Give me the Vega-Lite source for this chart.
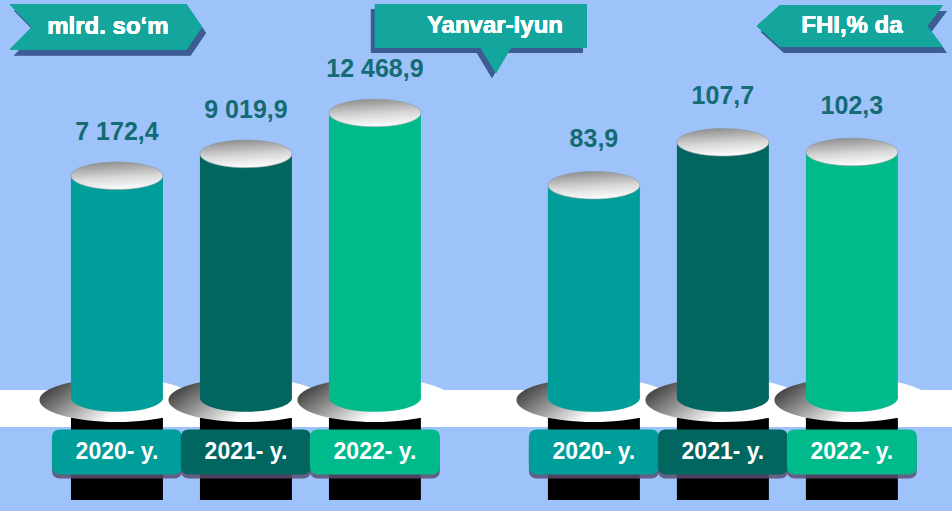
{
  "$schema": "https://vega.github.io/schema/vega-lite/v6.json",
  "width": 952,
  "height": 511,
  "autosize": {"type": "fit", "contains": "padding"},
  "padding": 0,
  "background": "#9DC3FA",
  "config": {"view": {"stroke": null}, "text": {"font": "Liberation Sans"}},
  "data": {"values": [
    {"panel": "L", "year": "2020", "value": 7172.4, "label": "7 172,4", "yl": "2020- y."},
    {"panel": "L", "year": "2021", "value": 9019.9, "label": "9 019,9", "yl": "2021- y."},
    {"panel": "L", "year": "2022", "value": 12468.9, "label": "12 468,9", "yl": "2022- y."},
    {"panel": "R", "year": "2020", "value": 83.9, "label": "83,9", "yl": "2020- y."},
    {"panel": "R", "year": "2021", "value": 107.7, "label": "107,7", "yl": "2021- y."},
    {"panel": "R", "year": "2022", "value": 102.3, "label": "102,3", "yl": "2022- y."}
  ]},
  "resolve": {"scale": {"y": "independent"}},
  "layer": [
    {
      "layer": [
        {
          "mark": {"type": "rect", "fill": "#FFFFFF"},
          "encoding": {
            "y": {"datum": -10894, "type": "quantitative", "axis": null, "scale": {"domain": [-21100, 22000], "nice": false, "zero": false}},
            "y2": {"datum": -14015}
          }
        },
        {
          "mark": {"type": "bar", "fill": "#000000"},
          "encoding": {
            "x": {"field": "panel", "type": "nominal", "axis": null, "scale": {"domain": ["L", "R"], "paddingInner": 0.2, "paddingOuter": 0.098, "align": 0.59}},
            "xOffset": {"field": "year", "type": "nominal", "scale": {"domain": ["2020", "2021", "2022"], "paddingInner": 0.287, "paddingOuter": 0.1226}},
            "y": {"datum": -13256, "type": "quantitative", "axis": null, "scale": {"domain": [-21100, 22000], "nice": false, "zero": false}},
            "y2": {"datum": -20172}
          }
        },
        {
          "mark": {"type": "point", "filled": true, "opacity": 1, "strokeWidth": 0, "size": 24025,
            "shape": "M-1,0C-1,-0.157,-0.5523,-0.284,0,-0.284C0.5523,-0.284,1,-0.157,1,0C1,0.157,0.5523,0.284,0,0.284C-0.5523,0.284,-1,0.157,-1,0Z",
            "fill": {"gradient": "linear", "x1": 0, "y1": 0.3, "x2": 1, "y2": 0.7, "stops": [
              {"offset": 0, "color": "#3a3a3a"}, {"offset": 0.3, "color": "#9a9a9a"}, {"offset": 0.6, "color": "#ffffff"}, {"offset": 1, "color": "#ffffff"}]}},
          "encoding": {
            "x": {"field": "panel", "type": "nominal", "axis": null},
            "xOffset": {"field": "year", "type": "nominal"},
            "y": {"datum": -11738, "type": "quantitative", "axis": null}
          }
        },
        {
          "mark": {"type": "point", "filled": true, "opacity": 0.85, "strokeWidth": 0, "size": 16900, "yOffset": 4, "fill": "#5a4d70",
            "shape": "M-0.877,-0.346L0.877,-0.346Q1,-0.346,1,-0.223L1,0.223Q1,0.346,0.877,0.346L-0.877,0.346Q-1,0.346,-1,0.223L-1,-0.223Q-1,-0.346,-0.877,-0.346Z"},
          "encoding": {
            "x": {"field": "panel", "type": "nominal", "axis": null},
            "xOffset": {"field": "year", "type": "nominal"},
            "y": {"datum": -16123, "type": "quantitative", "axis": null}
          }
        },
        {
          "mark": {"type": "point", "filled": true, "opacity": 1, "strokeWidth": 0, "size": 16900,
            "shape": "M-0.877,-0.346L0.877,-0.346Q1,-0.346,1,-0.223L1,0.223Q1,0.346,0.877,0.346L-0.877,0.346Q-1,0.346,-1,0.223L-1,-0.223Q-1,-0.346,-0.877,-0.346Z"},
          "encoding": {
            "x": {"field": "panel", "type": "nominal", "axis": null},
            "xOffset": {"field": "year", "type": "nominal"},
            "y": {"datum": -16123, "type": "quantitative", "axis": null},
            "color": {"field": "year", "type": "nominal", "legend": null, "scale": {"domain": ["2020", "2021", "2022"], "range": ["#009E9A", "#00665F", "#00BA8C"]}}
          }
        },
        {
          "mark": {"type": "text", "fontSize": 23, "fontWeight": "bold", "fill": "#FFFFFF", "baseline": "middle", "align": "center"},
          "encoding": {
            "x": {"field": "panel", "type": "nominal", "axis": null},
            "xOffset": {"field": "year", "type": "nominal"},
            "y": {"datum": -16123, "type": "quantitative", "axis": null},
            "text": {"field": "yl"}
          }
        },
        {
          "transform": [{"filter": "datum.panel === 'L'"}],
          "mark": {"type": "bar"},
          "encoding": {
            "x": {"field": "panel", "type": "nominal", "axis": null},
            "xOffset": {"field": "year", "type": "nominal"},
            "y": {"field": "value", "type": "quantitative", "axis": null},
            "y2": {"datum": -11570},
            "color": {"field": "year", "type": "nominal", "legend": null}
          }
        },
        {
          "transform": [{"filter": "datum.panel === 'L'"}],
          "mark": {"type": "point", "filled": true, "opacity": 1, "strokeWidth": 0, "size": 8464,
            "shape": "M-1,0C-1,-0.1657,-0.5523,-0.3,0,-0.3C0.5523,-0.3,1,-0.1657,1,0C1,0.1657,0.5523,0.3,0,0.3C-0.5523,0.3,-1,0.1657,-1,0Z"},
          "encoding": {
            "x": {"field": "panel", "type": "nominal", "axis": null},
            "xOffset": {"field": "year", "type": "nominal"},
            "y": {"datum": -11570, "type": "quantitative", "axis": null},
            "color": {"field": "year", "type": "nominal", "legend": null}
          }
        },
        {
          "transform": [{"filter": "datum.panel === 'L'"}],
          "mark": {"type": "point", "filled": true, "opacity": 1, "stroke": "#8a9a9a", "strokeWidth": 0.6, "size": 8464,
            "shape": "M-1,0C-1,-0.1657,-0.5523,-0.3,0,-0.3C0.5523,-0.3,1,-0.1657,1,0C1,0.1657,0.5523,0.3,0,0.3C-0.5523,0.3,-1,0.1657,-1,0Z",
            "fill": {"gradient": "linear", "x1": 0.4, "y1": 0, "x2": 0.6, "y2": 1, "stops": [
              {"offset": 0, "color": "#8f8f8f"}, {"offset": 0.55, "color": "#d8d8d8"}, {"offset": 1, "color": "#ffffff"}]}},
          "encoding": {
            "x": {"field": "panel", "type": "nominal", "axis": null},
            "xOffset": {"field": "year", "type": "nominal"},
            "y": {"field": "value", "type": "quantitative", "axis": null}
          }
        },
        {
          "transform": [{"filter": "datum.panel === 'L'"}],
          "mark": {"type": "text", "fontSize": 25, "fontWeight": "bold", "fill": "#146B73", "baseline": "middle", "align": "center", "dy": -44},
          "encoding": {
            "x": {"field": "panel", "type": "nominal", "axis": null},
            "xOffset": {"field": "year", "type": "nominal"},
            "y": {"field": "value", "type": "quantitative", "axis": null},
            "text": {"field": "label"}
          }
        },
        {
          "mark": {"type": "point", "filled": true, "opacity": 0.45, "strokeWidth": 0, "size": 36864, "fill": "#3a5a90", "xOffset": -136, "yOffset": 6,
            "shape": "M-1,-0.234L0.84,-0.234L1,0L0.84,0.234L-1,0.234L-0.77,0Z"},
          "encoding": {
            "x": {"datum": "L", "type": "nominal", "axis": null},
            "y": {"datum": 19723, "type": "quantitative", "axis": null}
          }
        },
        {
          "mark": {"type": "point", "filled": true, "opacity": 1, "strokeWidth": 0, "size": 36864, "fill": "#14A59D", "xOffset": -140,
            "shape": "M-1,-0.234L0.84,-0.234L1,0L0.84,0.234L-1,0.234L-0.77,0Z"},
          "encoding": {
            "x": {"datum": "L", "type": "nominal", "axis": null},
            "y": {"datum": 19723, "type": "quantitative", "axis": null}
          }
        },
        {
          "mark": {"type": "text", "text": "mlrd. so‘m", "fontSize": 24, "fontWeight": "bold", "fill": "#FFFFFF", "baseline": "middle", "align": "center", "xOffset": -138},
          "encoding": {
            "x": {"datum": "L", "type": "nominal", "axis": null},
            "y": {"datum": 19723, "type": "quantitative", "axis": null}
          }
        },
        {
          "mark": {"type": "point", "filled": true, "opacity": 0.45, "strokeWidth": 0, "size": 44944, "fill": "#3a5a90", "xOffset": 231, "yOffset": 5,
            "shape": "M-1,-0.2075L1,-0.2075L1,0.2075L0.28,0.2075L0.1415,0.443L0,0.2075L-1,0.2075Z"},
          "encoding": {
            "x": {"datum": "L", "type": "nominal", "axis": null},
            "y": {"datum": 19807, "type": "quantitative", "axis": null}
          }
        },
        {
          "mark": {"type": "point", "filled": true, "opacity": 1, "strokeWidth": 0, "size": 44944, "fill": "#14A59D", "xOffset": 235,
            "shape": "M-1,-0.2075L1,-0.2075L1,0.2075L0.28,0.2075L0.1415,0.443L0,0.2075L-1,0.2075Z"},
          "encoding": {
            "x": {"datum": "L", "type": "nominal", "axis": null},
            "y": {"datum": 19807, "type": "quantitative", "axis": null}
          }
        },
        {
          "mark": {"type": "text", "text": "Yanvar-Iyun", "fontSize": 24, "fontWeight": "bold", "fill": "#FFFFFF", "baseline": "middle", "align": "center", "xOffset": 249},
          "encoding": {
            "x": {"datum": "L", "type": "nominal", "axis": null},
            "y": {"datum": 19807, "type": "quantitative", "axis": null}
          }
        },
        {
          "mark": {"type": "point", "filled": true, "opacity": 0.45, "strokeWidth": 0, "size": 34596, "fill": "#3a5a90", "xOffset": 131, "yOffset": 6,
            "shape": "M-1,0L-0.75,-0.226L1,-0.226L0.83,0L1,0.226L-0.75,0.226Z"},
          "encoding": {
            "x": {"datum": "R", "type": "nominal", "axis": null},
            "y": {"datum": 19807, "type": "quantitative", "axis": null}
          }
        },
        {
          "mark": {"type": "point", "filled": true, "opacity": 1, "strokeWidth": 0, "size": 34596, "fill": "#14A59D", "xOffset": 127,
            "shape": "M-1,0L-0.75,-0.226L1,-0.226L0.83,0L1,0.226L-0.75,0.226Z"},
          "encoding": {
            "x": {"datum": "R", "type": "nominal", "axis": null},
            "y": {"datum": 19807, "type": "quantitative", "axis": null}
          }
        },
        {
          "mark": {"type": "text", "text": "FHI,% da", "fontSize": 24, "fontWeight": "bold", "fill": "#FFFFFF", "baseline": "middle", "align": "center", "xOffset": 129},
          "encoding": {
            "x": {"datum": "R", "type": "nominal", "axis": null},
            "y": {"datum": 19807, "type": "quantitative", "axis": null}
          }
        }
      ]
    },
    {
      "transform": [{"filter": "datum.panel === 'R'"}],
      "layer": [
        {
          "mark": {"type": "bar"},
          "encoding": {
            "x": {"field": "panel", "type": "nominal", "axis": null},
            "xOffset": {"field": "year", "type": "nominal"},
            "y": {"field": "value", "type": "quantitative", "axis": null, "scale": {"domain": [-96.5, 186.5], "nice": false, "zero": false}},
            "y2": {"datum": -33.9},
            "color": {"field": "year", "type": "nominal", "legend": null}
          }
        },
        {
          "mark": {"type": "point", "filled": true, "opacity": 1, "strokeWidth": 0, "size": 8464,
            "shape": "M-1,0C-1,-0.1657,-0.5523,-0.3,0,-0.3C0.5523,-0.3,1,-0.1657,1,0C1,0.1657,0.5523,0.3,0,0.3C-0.5523,0.3,-1,0.1657,-1,0Z"},
          "encoding": {
            "x": {"field": "panel", "type": "nominal", "axis": null},
            "xOffset": {"field": "year", "type": "nominal"},
            "y": {"datum": -33.9, "type": "quantitative", "axis": null},
            "color": {"field": "year", "type": "nominal", "legend": null}
          }
        },
        {
          "mark": {"type": "point", "filled": true, "opacity": 1, "stroke": "#8a9a9a", "strokeWidth": 0.6, "size": 8464,
            "shape": "M-1,0C-1,-0.1657,-0.5523,-0.3,0,-0.3C0.5523,-0.3,1,-0.1657,1,0C1,0.1657,0.5523,0.3,0,0.3C-0.5523,0.3,-1,0.1657,-1,0Z",
            "fill": {"gradient": "linear", "x1": 0.4, "y1": 0, "x2": 0.6, "y2": 1, "stops": [
              {"offset": 0, "color": "#8f8f8f"}, {"offset": 0.55, "color": "#d8d8d8"}, {"offset": 1, "color": "#ffffff"}]}},
          "encoding": {
            "x": {"field": "panel", "type": "nominal", "axis": null},
            "xOffset": {"field": "year", "type": "nominal"},
            "y": {"field": "value", "type": "quantitative", "axis": null}
          }
        },
        {
          "mark": {"type": "text", "fontSize": 25, "fontWeight": "bold", "fill": "#146B73", "baseline": "middle", "align": "center", "dy": -46},
          "encoding": {
            "x": {"field": "panel", "type": "nominal", "axis": null},
            "xOffset": {"field": "year", "type": "nominal"},
            "y": {"field": "value", "type": "quantitative", "axis": null},
            "text": {"field": "label"}
          }
        }
      ]
    }
  ]
}
